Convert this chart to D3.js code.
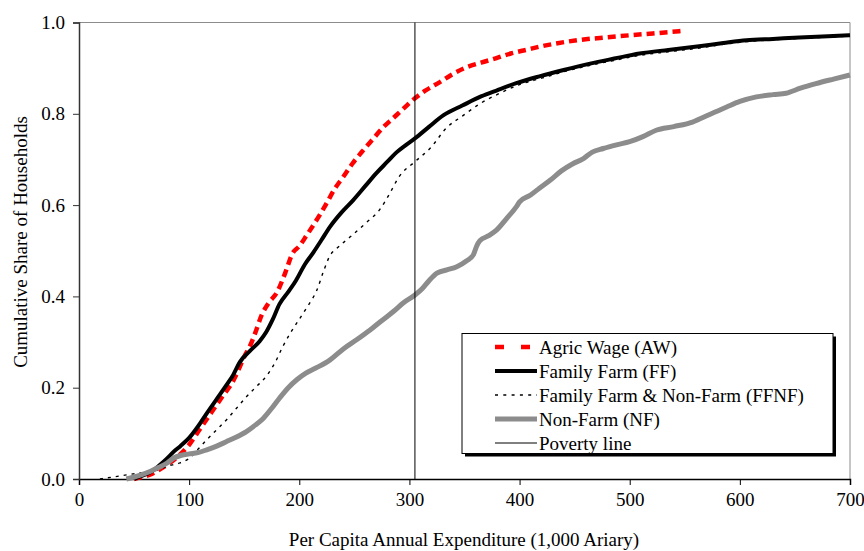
<!DOCTYPE html>
<html>
<head>
<meta charset="utf-8">
<script src="https://cdn.jsdelivr.net/npm/d3@7"></script>
</head>
<body style="margin:0; background:#fff">
<div id="chart"></div>
<script>
// cumulative distributions, [expenditure (1,000 Ariary), share of households]
const agricWage = [[50,0],[55,0.003],[65,0.01],[76,0.025],[90,0.05],[100,0.075],[110,0.11],[120,0.145],[130,0.18],[140,0.215],[145,0.24],[150,0.268],[155,0.29],[160,0.32],[166,0.36],[172,0.385],[180,0.41],[187,0.45],[194,0.495],[200,0.51],[207,0.535],[213,0.557],[219,0.58],[225,0.605],[232,0.635],[240,0.662],[248,0.69],[258,0.72],[267,0.745],[276,0.77],[285,0.79],[294,0.81],[305,0.834],[314,0.85],[328,0.87],[340,0.888],[352,0.902],[365,0.912],[379,0.922],[392,0.932],[406,0.94],[420,0.948],[433,0.954],[455,0.962],[477,0.967],[500,0.972],[521,0.976],[550,0.982]]
const familyFarm = [[50,0],[55,0.005],[65,0.015],[72,0.028],[80,0.045],[86,0.06],[92,0.072],[100,0.09],[108,0.115],[116,0.144],[125,0.175],[134,0.206],[140,0.228],[146,0.256],[155,0.28],[164,0.302],[170,0.322],[176,0.35],[182,0.383],[190,0.41],[197,0.435],[205,0.47],[213,0.497],[220,0.523],[228,0.553],[238,0.583],[249,0.611],[260,0.642],[270,0.67],[280,0.695],[288,0.715],[297,0.732],[305,0.746],[318,0.772],[331,0.797],[348,0.818],[365,0.838],[380,0.852],[397,0.867],[418,0.882],[440,0.896],[464,0.91],[486,0.921],[509,0.932],[535,0.94],[563,0.948],[585,0.955],[606,0.961],[630,0.964],[654,0.967],[680,0.97],[700,0.972]]
const farmNonFarm = [[19,0],[30,0.004],[43,0.009],[60,0.015],[72,0.02],[80,0.028],[90,0.034],[100,0.045],[108,0.065],[116,0.086],[125,0.108],[134,0.13],[143,0.155],[152,0.18],[160,0.2],[170,0.225],[178,0.255],[185,0.29],[192,0.32],[200,0.35],[208,0.38],[216,0.414],[222,0.455],[228,0.49],[234,0.505],[246,0.53],[261,0.562],[273,0.59],[282,0.625],[290,0.66],[306,0.697],[319,0.725],[334,0.77],[348,0.795],[364,0.822],[382,0.845],[400,0.864],[420,0.878],[440,0.892],[464,0.906],[486,0.917],[509,0.928],[535,0.936],[563,0.944],[585,0.952],[606,0.958],[630,0.962],[654,0.965],[680,0.968],[700,0.97]]
const nonFarm = [[43,0],[55,0.008],[65,0.017],[72,0.025],[80,0.035],[86,0.046],[93,0.052],[100,0.055],[108,0.058],[116,0.064],[125,0.072],[134,0.082],[143,0.092],[152,0.104],[160,0.118],[167,0.132],[175,0.155],[182,0.177],[190,0.2],[198,0.218],[206,0.232],[215,0.243],[228,0.261],[240,0.285],[252,0.305],[264,0.326],[276,0.349],[286,0.368],[294,0.385],[305,0.403],[312,0.418],[318,0.435],[325,0.451],[334,0.458],[343,0.465],[352,0.478],[358,0.491],[361,0.51],[364,0.522],[372,0.533],[379,0.545],[388,0.57],[397,0.596],[400,0.607],[410,0.622],[418,0.637],[428,0.655],[438,0.675],[448,0.69],[458,0.702],[466,0.716],[476,0.724],[488,0.732],[500,0.739],[512,0.75],[524,0.764],[540,0.772],[557,0.782],[572,0.798],[588,0.815],[600,0.827],[615,0.837],[630,0.842],[642,0.845],[655,0.856],[669,0.866],[685,0.876],[700,0.885]]
const povertyLine = [[305,0],[305,1]]

const seriesNames = ["Agric Wage (AW)", "Family Farm (FF)", "Family Farm & Non-Farm (FFNF)", "Non-Farm (NF)", "Poverty line"]
const xTicks = [0, 100, 200, 300, 400, 500, 600, 700]
const yTicks = [0, 0.2, 0.4, 0.6, 0.8, 1.0]

const FONT = "Liberation Serif"
const W = 864, H = 551
const margin = {top: 22.5, right: 14, bottom: 72, left: 79}
const width = W - margin.left - margin.right
const height = H - margin.top - margin.bottom

const svg = d3.select("#chart").append("svg")
    .attr("width", W).attr("height", H)
    .attr("font-family", FONT)

const g = svg.append("g")
    .attr("transform", "translate(" + margin.left + "," + margin.top + ")")

const x = d3.scaleLinear().domain([0, 700]).range([0, width])
const y = d3.scaleLinear().domain([0, 1]).range([height, 0])

// plot frame: grey top & right
g.append("line").attr("x1", 0).attr("x2", width).attr("y1", 0).attr("y2", 0)
    .attr("stroke", "#8c8c8c").attr("stroke-width", 1)
g.append("line").attr("x1", width).attr("x2", width).attr("y1", 0).attr("y2", height)
    .attr("stroke", "#8c8c8c").attr("stroke-width", 1)

// axes
const xAxis = g.append("g").attr("transform", "translate(0," + height + ")")
    .call(d3.axisBottom(x).tickValues(xTicks).tickSize(6).tickPadding(8).tickFormat(d3.format("d")))
const yAxis = g.append("g")
    .call(d3.axisLeft(y).tickValues(yTicks).tickSize(6).tickPadding(8).tickFormat(d3.format(".1f")))

xAxis.attr("font-family", FONT).attr("font-size", 19)
yAxis.attr("font-family", FONT).attr("font-size", 19)
xAxis.select(".domain").attr("stroke", "#000").attr("stroke-width", 1.5)
yAxis.select(".domain").attr("stroke", "#333").attr("stroke-width", 1.5)
xAxis.selectAll(".tick line").attr("stroke", "#000")
yAxis.selectAll(".tick line").attr("stroke", "#333")
xAxis.selectAll("text").attr("fill", "#000")
yAxis.selectAll("text").attr("fill", "#000")

// axis titles
svg.append("text")
    .attr("x", margin.left + width / 2 - 0.5).attr("y", 546)
    .attr("text-anchor", "middle").attr("font-size", 19).attr("font-family", FONT)
    .text("Per Capita Annual Expenditure (1,000 Ariary)")
svg.append("text")
    .attr("transform", "translate(27," + 242 + ") rotate(-90)")
    .attr("text-anchor", "middle").attr("font-size", 19).attr("font-family", FONT)
    .text("Cumulative Share of Households")

const line = d3.line()
    .x(d => x(d[0]))
    .y(d => y(d[1]))
    .curve(d3.curveMonotoneX)

const styles = [
    {data: agricWage, color: "#ff0000", width: 4.5, dash: "8,5", legendDash: "9,17"},
    {data: familyFarm, color: "#000", width: 4, dash: null, legendDash: null},
    {data: farmNonFarm, color: "#000", width: 1.4, dash: "3,5", legendDash: "3,5.3"},
    {data: nonFarm, color: "#8c8c8c", width: 5, dash: null, legendDash: null},
    {data: povertyLine, color: "#000", width: 1, dash: null, legendDash: null}
]

styles.forEach(s => {
    g.append("path")
        .datum(s.data)
        .attr("d", s.data === povertyLine ? d3.line().x(d => x(d[0])).y(d => y(d[1])) : line)
        .attr("fill", "none")
        .attr("stroke", s.color)
        .attr("stroke-width", s.width)
        .attr("stroke-dasharray", s.dash)
        .attr("stroke-linejoin", "round")
})

// legend
const lg = svg.append("g").attr("transform", "translate(462,333.5)")
const lw = 371, lh = 120
lg.append("rect").attr("x", 3).attr("y", 3).attr("width", lw).attr("height", lh).attr("fill", "#000")
lg.append("rect").attr("x", 0).attr("y", 0).attr("width", lw).attr("height", lh)
    .attr("fill", "#fff").attr("stroke", "#000").attr("stroke-width", 1)

seriesNames.forEach((name, i) => {
    const s = styles[i]
    const yy = 13.5 + i * 24
    lg.append("line")
        .attr("x1", 33).attr("x2", 75).attr("y1", yy).attr("y2", yy)
        .attr("stroke", s.color)
        .attr("stroke-width", s.width)
        .attr("stroke-dasharray", s.legendDash)
    lg.append("text")
        .attr("x", 77).attr("y", yy + 6.5)
        .attr("font-size", 19).attr("font-family", FONT)
        .text(name)
})
</script>
</body>
</html>
